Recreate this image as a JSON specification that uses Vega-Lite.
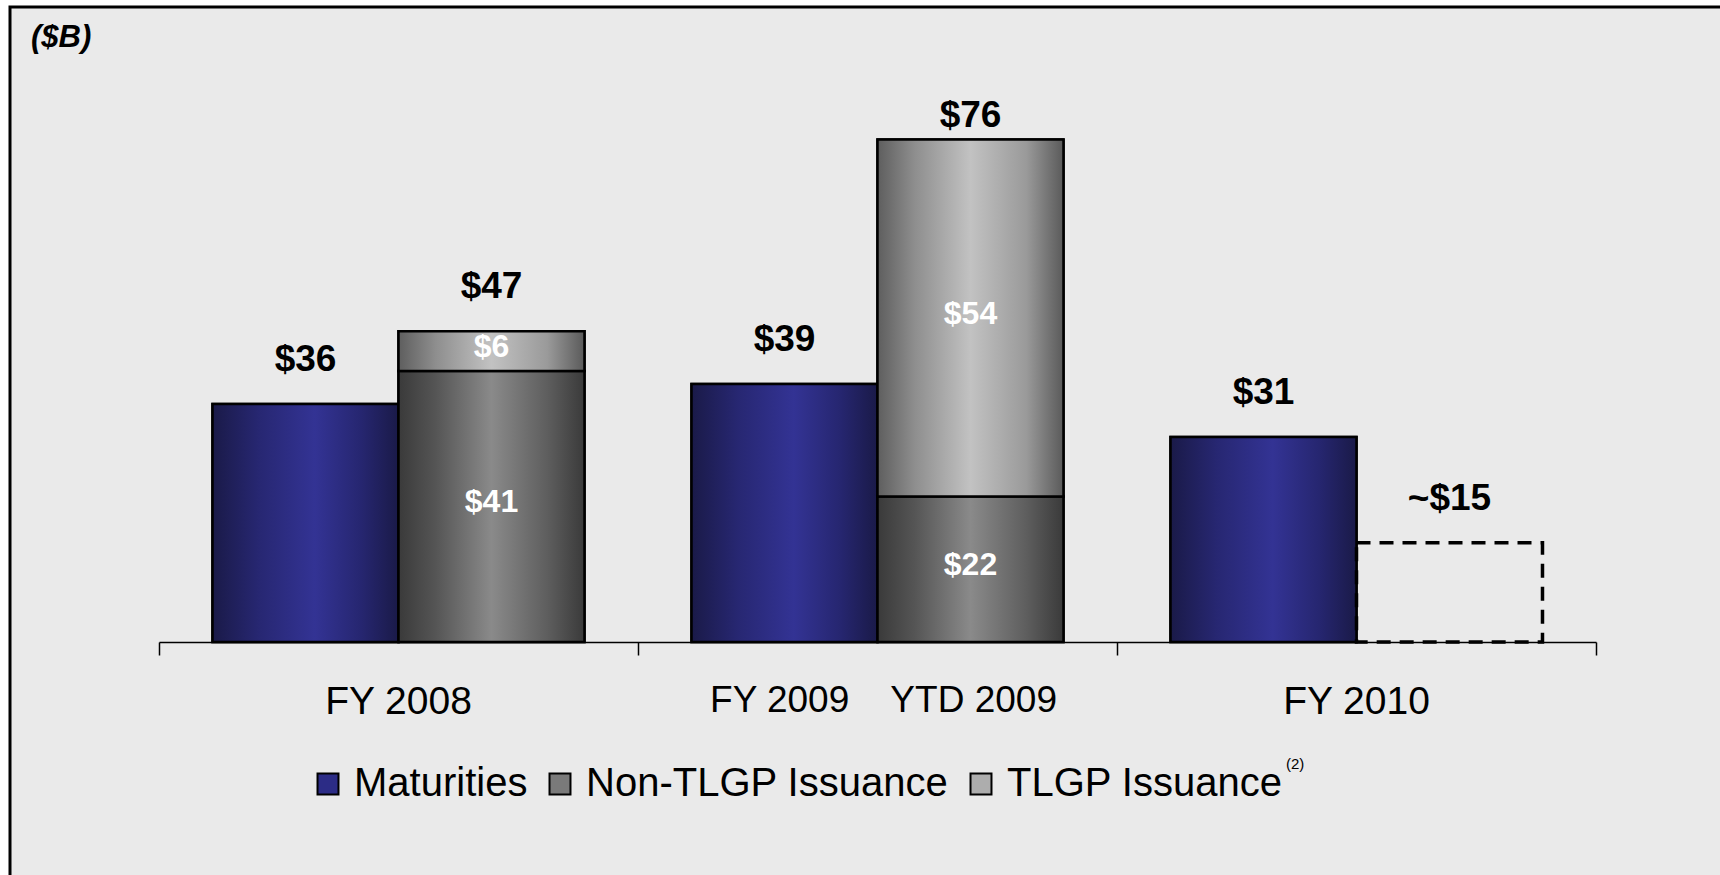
{
  "$schema": "https://vega.github.io/schema/vega-lite/v6.json",
  "width": 1722,
  "height": 883,
  "autosize": {"type": "none"},
  "padding": {"left": 10, "top": 7, "right": -12, "bottom": -15},
  "background": "white",
  "config": {
    "view": {"fill": "#EAEAEA", "stroke": "black", "strokeWidth": 3},
    "font": "Liberation Sans"
  },
  "title": {
    "text": "($B)",
    "anchor": "start",
    "frame": "group",
    "font": "Liberation Sans",
    "fontSize": 31,
    "fontStyle": "italic",
    "fontWeight": "bold",
    "color": "black",
    "baseline": "alphabetic",
    "offset": 0,
    "dx": 21,
    "dy": 71
  },
  "datasets": {
    "bars": [
      {"group": "FY 2008", "pos": "a", "series": "Maturities", "value": 36},
      {"group": "FY 2008", "pos": "b", "series": "Non-TLGP Issuance", "value": 41},
      {"group": "FY 2008", "pos": "b", "series": "TLGP Issuance", "value": 6},
      {"group": "FY 2009\u00a0\u00a0\u00a0\u00a0YTD 2009", "pos": "a", "series": "Maturities", "value": 39},
      {"group": "FY 2009\u00a0\u00a0\u00a0\u00a0YTD 2009", "pos": "b", "series": "Non-TLGP Issuance", "value": 22},
      {"group": "FY 2009\u00a0\u00a0\u00a0\u00a0YTD 2009", "pos": "b", "series": "TLGP Issuance", "value": 54},
      {"group": "FY 2010", "pos": "a", "series": "Maturities", "value": 31},
      {"group": "FY 2010", "pos": "b", "series": "Projected", "value": 15}
    ],
    "totals": [
      {"group": "FY 2008", "pos": "a", "total": 36, "label": "$36"},
      {"group": "FY 2008", "pos": "b", "total": 47, "label": "$47"},
      {"group": "FY 2009\u00a0\u00a0\u00a0\u00a0YTD 2009", "pos": "a", "total": 39, "label": "$39"},
      {"group": "FY 2009\u00a0\u00a0\u00a0\u00a0YTD 2009", "pos": "b", "total": 76, "label": "$76"},
      {"group": "FY 2010", "pos": "a", "total": 31, "label": "$31"},
      {"group": "FY 2010", "pos": "b", "total": 15, "label": "~$15"}
    ]
  },
  "encoding": {
    "x": {
      "field": "group",
      "type": "nominal",
      "sort": ["FY 2008", "FY 2009\u00a0\u00a0\u00a0\u00a0YTD 2009", "FY 2010"],
      "scale": {"range": [149, 1586], "paddingInner": 0, "paddingOuter": 0},
      "axis": {
        "title": null,
        "orient": "bottom",
        "offset": -248,
        "labelAngle": 0,
        "bandPosition": 1,
        "tickExtra": true,
        "domainColor": "black",
        "domainWidth": 1.5,
        "tickColor": "black",
        "tickWidth": 1.5,
        "tickSize": 13,
        "labelColor": "black",
        "labelFont": "Liberation Sans",
        "labelFontSize": {"condition": {"test": "indexof(datum.label, 'YTD') >= 0", "value": 37}, "value": 39},
        "labelOffset": {"condition": {"test": "indexof(datum.label, 'YTD') >= 0", "value": 6}, "value": 0},
        "labelPadding": 27,
        "labelBaseline": "top",
        "labelLimit": 800
      }
    },
    "xOffset": {
      "field": "pos",
      "type": "nominal",
      "sort": ["a", "b"],
      "scale": {"paddingInner": 0, "paddingOuter": 0.2877}
    }
  },
  "layer": [
    {
      "data": {"name": "bars"},
      "transform": [
        {"filter": "datum.series != 'Projected'"},
        {"stack": "value", "groupby": ["group", "pos"], "sort": [{"field": "series", "order": "ascending"}], "as": ["v0", "v1"]}
      ],
      "mark": {"type": "bar", "stroke": "black", "strokeWidth": 2.5},
      "encoding": {
        "y": {"field": "v1", "type": "quantitative", "scale": {"domain": [0, 80], "range": [635, 106], "nice": false, "zero": true}, "axis": null},
        "y2": {"field": "v0"},
        "color": {
          "field": "series",
          "type": "nominal",
          "scale": {"domain": ["Maturities", "Non-TLGP Issuance", "TLGP Issuance"], "range": ["#2c2c86", "#7a7a7a", "#adadad"]},
          "legend": {
            "title": "(2)",
            "titleOrient": "right",
            "titleAnchor": "start",
            "titleBaseline": "middle",
            "titleFontSize": 15,
            "titleFontWeight": "normal",
            "titleFont": "Liberation Sans",
            "titleColor": "black",
            "titlePadding": 3,
            "orient": "none",
            "legendX": 298,
            "legendY": 757,
            "direction": "horizontal",
            "symbolType": "square",
            "symbolSize": 440,
            "symbolStrokeColor": "black",
            "symbolStrokeWidth": 2,
            "symbolOpacity": 1,
            "labelFont": "Liberation Sans",
            "labelFontSize": 40,
            "labelColor": "black",
            "labelOffset": 6,
            "columnPadding": 12,
            "labelLimit": 600
          }
        }
      }
    },
    {
      "data": {"name": "bars"},
      "transform": [
        {"filter": "datum.series != 'Projected'"},
        {"stack": "value", "groupby": ["group", "pos"], "sort": [{"field": "series", "order": "ascending"}], "as": ["v0", "v1"]},
        {"filter": "datum.series == 'Maturities'"}
      ],
      "mark": {
        "type": "bar",
        "stroke": "black",
        "strokeWidth": 2.5,
        "fill": {"gradient": "linear", "x1": 0, "y1": 0, "x2": 1, "y2": 0,
          "stops": [
            {"offset": 0, "color": "#1a1a48"},
            {"offset": 0.25, "color": "#272772"},
            {"offset": 0.55, "color": "#333394"},
            {"offset": 0.8, "color": "#262670"},
            {"offset": 1, "color": "#1a1a48"}
          ]}
      },
      "encoding": {
        "y": {"field": "v1", "type": "quantitative", "scale": {"domain": [0, 80], "range": [635, 106], "nice": false, "zero": true}, "axis": null},
        "y2": {"field": "v0"}
      }
    },
    {
      "data": {"name": "bars"},
      "transform": [
        {"filter": "datum.series != 'Projected'"},
        {"stack": "value", "groupby": ["group", "pos"], "sort": [{"field": "series", "order": "ascending"}], "as": ["v0", "v1"]},
        {"filter": "datum.series == 'Non-TLGP Issuance'"}
      ],
      "mark": {
        "type": "bar",
        "stroke": "black",
        "strokeWidth": 2.5,
        "fill": {"gradient": "linear", "x1": 0, "y1": 0, "x2": 1, "y2": 0,
          "stops": [
            {"offset": 0, "color": "#3a3a3a"},
            {"offset": 0.2, "color": "#555555"},
            {"offset": 0.5, "color": "#8a8a8a"},
            {"offset": 0.8, "color": "#5e5e5e"},
            {"offset": 1, "color": "#3a3a3a"}
          ]}
      },
      "encoding": {
        "y": {"field": "v1", "type": "quantitative", "scale": {"domain": [0, 80], "range": [635, 106], "nice": false, "zero": true}, "axis": null},
        "y2": {"field": "v0"}
      }
    },
    {
      "data": {"name": "bars"},
      "transform": [
        {"filter": "datum.series != 'Projected'"},
        {"stack": "value", "groupby": ["group", "pos"], "sort": [{"field": "series", "order": "ascending"}], "as": ["v0", "v1"]},
        {"filter": "datum.series == 'TLGP Issuance'"}
      ],
      "mark": {
        "type": "bar",
        "stroke": "black",
        "strokeWidth": 2.5,
        "fill": {"gradient": "linear", "x1": 0, "y1": 0, "x2": 1, "y2": 0,
          "stops": [
            {"offset": 0, "color": "#5e5e5e"},
            {"offset": 0.2, "color": "#8e8e8e"},
            {"offset": 0.5, "color": "#c2c2c2"},
            {"offset": 0.8, "color": "#9a9a9a"},
            {"offset": 1, "color": "#5a5a5a"}
          ]}
      },
      "encoding": {
        "y": {"field": "v1", "type": "quantitative", "scale": {"domain": [0, 80], "range": [635, 106], "nice": false, "zero": true}, "axis": null},
        "y2": {"field": "v0"}
      }
    },
    {
      "data": {"name": "bars"},
      "transform": [{"filter": "datum.series == 'Projected'"}],
      "mark": {"type": "bar", "fill": "#EAEAEA", "fillOpacity": 0, "stroke": "black", "strokeWidth": 3.5, "strokeDash": [14, 9]},
      "encoding": {
        "y": {"field": "value", "type": "quantitative", "scale": {"domain": [0, 80], "range": [635, 106], "nice": false, "zero": true}, "axis": null}
      }
    },
    {
      "data": {"name": "bars"},
      "transform": [{"filter": "datum.pos == 'b' && datum.series != 'Projected'"}],
      "mark": {"type": "text", "color": "white", "fontWeight": "bold", "fontSize": 32, "font": "Liberation Sans", "baseline": "middle", "align": "center", "dy": -4},
      "encoding": {
        "y": {"field": "value", "type": "quantitative", "stack": "zero", "bandPosition": 0.5, "scale": {"domain": [0, 80], "range": [635, 106], "nice": false, "zero": true}, "axis": null},
        "detail": {"field": "series"},
        "order": {"field": "series", "sort": "ascending"},
        "text": {"field": "value", "type": "quantitative", "format": "$d"}
      }
    },
    {
      "data": {"name": "totals"},
      "transform": [{"filter": "datum.total < 70"}],
      "mark": {"type": "text", "color": "black", "fontWeight": "bold", "fontSize": 37, "font": "Liberation Sans", "baseline": "middle", "align": "center", "dy": -44},
      "encoding": {
        "y": {"field": "total", "type": "quantitative", "scale": {"domain": [0, 80], "range": [635, 106], "nice": false, "zero": true}, "axis": null},
        "text": {"field": "label"}
      }
    },
    {
      "data": {"name": "totals"},
      "transform": [{"filter": "datum.total >= 70"}],
      "mark": {"type": "text", "color": "black", "fontWeight": "bold", "fontSize": 37, "font": "Liberation Sans", "baseline": "middle", "align": "center", "dy": -23},
      "encoding": {
        "y": {"field": "total", "type": "quantitative", "scale": {"domain": [0, 80], "range": [635, 106], "nice": false, "zero": true}, "axis": null},
        "text": {"field": "label"}
      }
    }
  ]
}
